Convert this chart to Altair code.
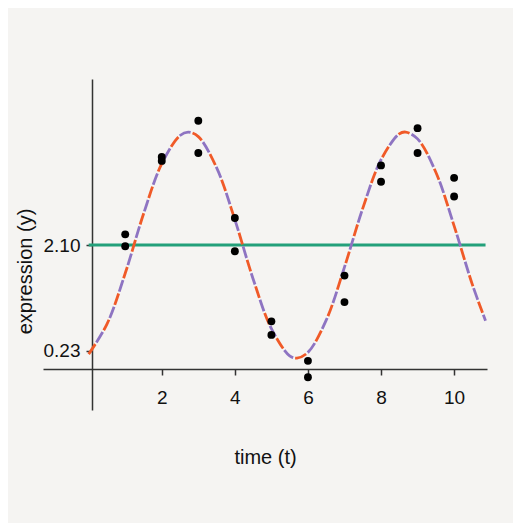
import altair as alt
import pandas as pd

# Observed data points (time, expression)
obs_t = [1, 1, 2, 2, 3, 3, 4, 4, 5, 5, 6, 6, 7, 7, 8, 8, 9, 9, 10, 10]
obs_y = [2.29, 2.08, 3.66, 3.59, 4.30, 3.73, 2.58, 1.99, 0.75, 0.51,
         0.05, -0.24, 1.56, 1.09, 3.51, 3.22, 4.17, 3.73, 3.29, 2.96]

# Fitted curve
curve_t = [0, 0.5, 1, 1.5, 2, 2.5, 2.725, 3, 3.5, 4, 4.5, 5, 5.5, 5.7, 6,
           6.5, 7, 7.5, 8, 8.5, 8.675, 9, 9.5, 10, 10.5, 10.86]
curve_y = [0.17, 0.70, 1.60, 2.65, 3.54, 4.04, 4.10, 4.02, 3.47, 2.55, 1.50,
           0.62, 0.14, 0.10, 0.20, 0.77, 1.71, 2.75, 3.61, 4.07, 4.10, 3.98,
           3.39, 2.44, 1.40, 0.76]

mean_level = [2.10]
mean_start = [0.0]
mean_end = [10.86]

y_ticks = [0.23, 2.10]
x_ticks = [2, 4, 6, 8, 10]

x_domain = [-1.25, 10.90]
y_domain = [-0.82, 5.04]

obs = pd.DataFrame({"t": obs_t, "y": obs_y})
curve = pd.DataFrame({"t": curve_t, "y": curve_y})
mean_df = pd.DataFrame({"t": mean_start, "t2": mean_end, "y": mean_level})

FONT = "Liberation Sans"
AXCOL = "#333333"

xs = alt.Scale(domain=x_domain, nice=False, zero=False)
ys = alt.Scale(domain=y_domain, nice=False, zero=False)

x_axis = alt.Axis(
    values=x_ticks, title="time (t)", offset=-41, grid=False,
    domainColor=AXCOL, domainWidth=1.5, tickColor=AXCOL, tickWidth=1.5,
    tickSize=6, labelFontSize=19, labelFont=FONT, labelColor="#111111",
    labelPadding=13, titleFontSize=20, titleFont=FONT, titleFontWeight="normal",
    titleColor="#111111", titleBaseline="middle", titleY=88,
)
y_axis = alt.Axis(
    values=y_ticks, format=".2f", title="expression (y)", offset=-49, grid=False,
    domainColor=AXCOL, domainWidth=1.5, tickColor=AXCOL, tickWidth=1.5,
    tickSize=6, labelFontSize=19, labelFont=FONT, labelColor="#111111",
    labelPadding=6, titleFontSize=20, titleFont=FONT, titleFontWeight="normal",
    titleColor="#111111", titleBaseline="middle", titleX=-67, titleY=192,
)

mean_line = alt.Chart(mean_df).mark_rule(color="#23a07a", strokeWidth=3).encode(
    x=alt.X("t:Q", scale=xs, axis=x_axis),
    x2="t2:Q",
    y=alt.Y("y:Q", scale=ys, axis=y_axis),
)

curve_red = alt.Chart(curve).mark_line(
    color="#f05a28", strokeWidth=2.8, strokeDash=[12, 16], interpolate="catmull-rom"
).encode(x=alt.X("t:Q", scale=xs), y=alt.Y("y:Q", scale=ys))

curve_purple = alt.Chart(curve).mark_line(
    color="#8e74c2", strokeWidth=2.8, strokeDash=[12, 16], strokeDashOffset=14,
    interpolate="catmull-rom"
).encode(x=alt.X("t:Q", scale=xs), y=alt.Y("y:Q", scale=ys))

points = alt.Chart(obs).mark_circle(color="#000000", size=62, opacity=1).encode(
    x=alt.X("t:Q", scale=xs), y=alt.Y("y:Q", scale=ys)
)

chart = alt.layer(mean_line, curve_red, curve_purple, points).properties(
    width=444, height=331,
    background="#f5f4f2",
    padding={"left": 35, "top": 71, "right": 26, "bottom": 113},
    autosize=alt.AutoSizeParams(type="none"),
).configure_view(stroke=None)

chart.save("out.html", embed_options={"renderer": "svg", "actions": False})
